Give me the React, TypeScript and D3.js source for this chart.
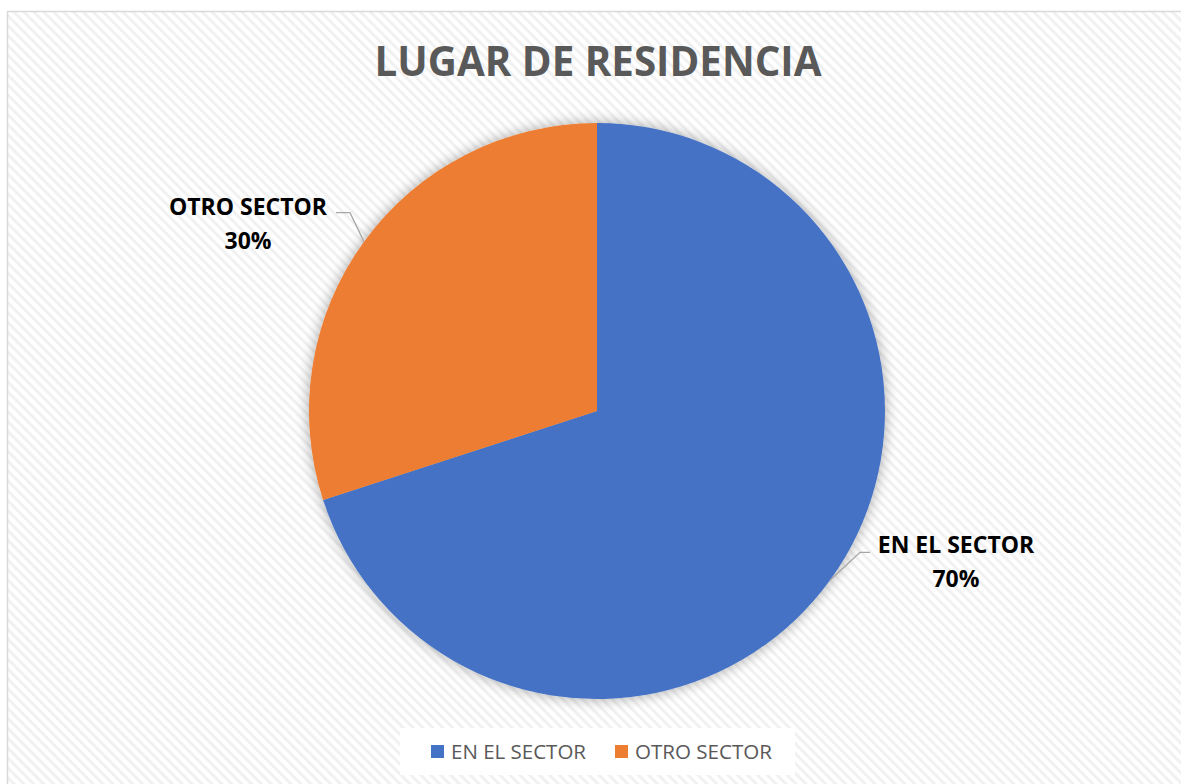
import React from "react";
import * as d3 from "d3";

const title = "LUGAR DE RESIDENCIA";
const categories = ["EN EL SECTOR", "OTRO SECTOR"];
const values = [70, 30];
const colors = ["#4472C4", "#ED7D31"];

const W = 1181;
const H = 784;
const cx = 597;
const cy = 411;
const R = 288;

// label layout relative to the slice's outer mid point
const labelLayout = [
  { elbow: [30, -28], end: [40, -28], text: [126, -27], anchor: "middle" },
  { elbow: [-14, -29], end: [-28, -29], text: [-116, -27], anchor: "middle" },
];

export default function App() {
  const pie = d3.pie<number>().sort(null).value((d) => d);
  const arcs = pie(values);
  const arc = d3.arc<d3.PieArcDatum<number>>().innerRadius(0).outerRadius(R);
  const total = d3.sum(values);

  return (
    <svg
      width={W}
      height={H}
      style={{ position: "absolute", left: 0, top: 0 }}
      fontFamily="'Open Sans', sans-serif"
    >
      <defs>
        <pattern
          id="bg"
          width="7"
          height="7"
          patternUnits="userSpaceOnUse"
          patternTransform="rotate(-45)"
        >
          <rect width="7" height="7" fill="#ffffff" />
          <rect width="3" height="7" fill="#f1f1f1" />
        </pattern>
        <filter id="shadow" x="-20%" y="-20%" width="140%" height="140%">
          <feGaussianBlur in="SourceAlpha" stdDeviation="7" />
          <feComponentTransfer>
            <feFuncA type="linear" slope="0.35" />
          </feComponentTransfer>
          <feMerge>
            <feMergeNode />
            <feMergeNode in="SourceGraphic" />
          </feMerge>
        </filter>
      </defs>
      <rect x={0} y={0} width={W} height={H} fill="#ffffff" />
      <rect x={7.5} y={11.5} width={W} height={H} fill="url(#bg)" stroke="#d9d9d9" strokeWidth={1.5} />

      <text
        x={598}
        y={76}
        textAnchor="middle"
        fontSize={42}
        fontWeight={700}
        fill="#595959"
        textLength={447}
        lengthAdjust="spacingAndGlyphs"
      >
        {title}
      </text>

      <g transform={`translate(${cx},${cy})`} filter="url(#shadow)">
        {arcs.map((a, i) => (
          <path key={i} d={arc(a) || ""} fill={colors[i]} />
        ))}
      </g>

      {arcs.map((a, i) => {
        const mid = (a.startAngle + a.endAngle) / 2;
        const px = cx + R * Math.sin(mid);
        const py = cy - R * Math.cos(mid);
        const L = labelLayout[i];
        const pct = Math.round((values[i] / total) * 100) + "%";
        return (
          <g key={i}>
            <polyline
              points={`${px},${py} ${px + L.elbow[0]},${py + L.elbow[1]} ${px + L.end[0]},${py + L.end[1]}`}
              fill="none"
              stroke="#a6a6a6"
              strokeWidth={1.3}
            />
            <text
              x={px + L.text[0]}
              y={py + L.text[1]}
              textAnchor="middle"
              fontSize={23}
              fontWeight={700}
              fill="#000000"
            >
              <tspan x={px + L.text[0]}>{categories[i]}</tspan>
              <tspan x={px + L.text[0]} dy={34}>{pct}</tspan>
            </text>
          </g>
        );
      })}

      <rect x={400} y={728} width={395} height={47} fill="#ffffff" />
      {categories.map((c, i) => {
        const lx = [431, 615][i];
        return (
          <g key={c}>
            <rect x={lx} y={745} width={13} height={13} fill={colors[i]} />
            <text
              x={lx + 20}
              y={759}
              fontSize={20}
              fill="#595959"
              textLength={[135, 137][i]}
              lengthAdjust="spacingAndGlyphs"
            >
              {c}
            </text>
          </g>
        );
      })}
    </svg>
  );
}
